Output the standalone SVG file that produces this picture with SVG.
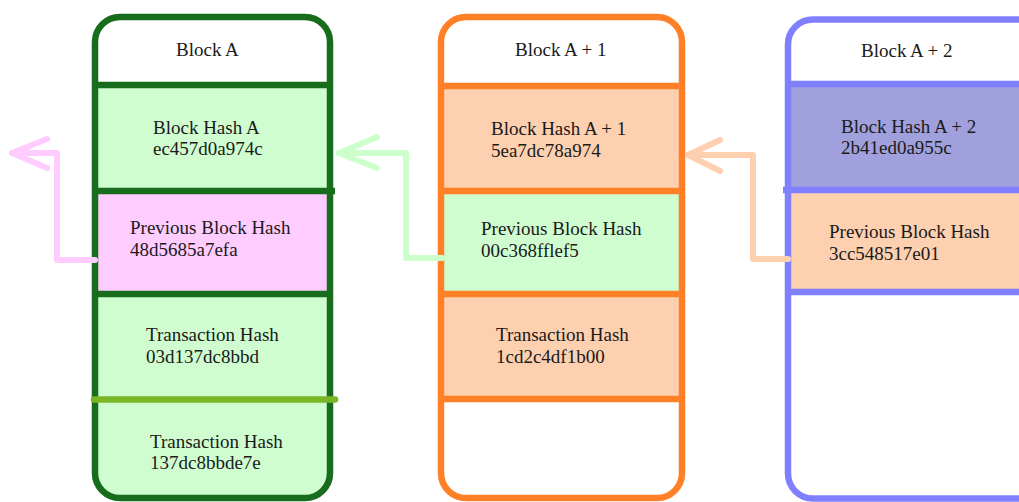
<svg xmlns="http://www.w3.org/2000/svg" width="1019" height="502" viewBox="0 0 1019 502">
  <style>
    text { font-family: "Liberation Serif", "Times New Roman", serif; font-size: 19px; fill: #1a1a1a; }
    .frame { fill: none; stroke-width: 6.5; }
    .div { stroke-width: 6.5; stroke-linecap: butt; }
    .link { fill: none; stroke-width: 6; stroke-linecap: round; stroke-linejoin: round; }
  </style>
  <defs>
    <clipPath id="clipA"><rect x="95" y="17" width="235" height="481" rx="25"/></clipPath>
    <clipPath id="clipB"><rect x="441" y="17" width="241" height="481" rx="25"/></clipPath>
    <clipPath id="clipC"><rect x="788" y="19.5" width="260" height="479" rx="25"/></clipPath>
  </defs>
  <rect width="1019" height="502" fill="#ffffff"/>

  <!-- Block A -->
  <g id="block-a">
    <g clip-path="url(#clipA)">
      <rect x="95" y="17" width="235" height="68" fill="#ffffff"/>
      <rect x="95" y="85" width="235" height="106" fill="#d0fdd0"/>
      <rect x="95" y="191" width="235" height="103" fill="#ffccff"/>
      <rect x="95" y="294" width="235" height="210" fill="#d0fdd0"/>
    </g>
    <line class="div" x1="95" y1="85" x2="330" y2="85" stroke="#186d1c"/>
    <line class="div" x1="95" y1="191" x2="335" y2="191" stroke="#186d1c"/>
    <line class="div" x1="95" y1="294" x2="330" y2="294" stroke="#186d1c"/>
    <rect class="frame" x="95" y="17" width="235" height="481" rx="25" stroke="#186d1c"/>
    <line x1="94" y1="399.5" x2="335" y2="399.5" stroke="#7ab526" stroke-width="6.5" stroke-linecap="round"/>
    <text x="176" y="56">Block A</text>
    <text x="153" y="134">Block Hash A</text>
    <text x="153" y="155">ec457d0a974c</text>
    <text x="130" y="234">Previous Block Hash</text>
    <text x="130" y="256">48d5685a7efa</text>
    <text x="146" y="341">Transaction Hash</text>
    <text x="146" y="363">03d137dc8bbd</text>
    <text x="150" y="448">Transaction Hash</text>
    <text x="150" y="469">137dc8bbde7e</text>
  </g>

  <!-- Block A + 1 -->
  <g id="block-a1">
    <g clip-path="url(#clipB)">
      <rect x="441" y="17" width="241" height="69" fill="#ffffff"/>
      <rect x="441" y="86" width="241" height="105" fill="#fdd0b0"/>
      <rect x="441" y="191" width="241" height="103" fill="#d0fdd0"/>
      <rect x="441" y="294" width="241" height="105" fill="#fdd0b0"/>
      <rect x="441" y="399" width="241" height="105" fill="#ffffff"/>
    </g>
    <line class="div" x1="441" y1="86" x2="682" y2="86" stroke="#ff8027"/>
    <line class="div" x1="441" y1="191" x2="682" y2="191" stroke="#ff8027"/>
    <line class="div" x1="441" y1="294" x2="682" y2="294" stroke="#ff8027"/>
    <line class="div" x1="441" y1="399" x2="682" y2="399" stroke="#ff8027"/>
    <rect class="frame" x="441" y="17" width="241" height="481" rx="25" stroke="#ff8027"/>
    <text x="515" y="56">Block A + 1</text>
    <text x="491" y="135">Block Hash A + 1</text>
    <text x="491" y="157">5ea7dc78a974</text>
    <text x="481" y="235">Previous Block Hash</text>
    <text x="481" y="257">00c368fflef5</text>
    <text x="496" y="341">Transaction Hash</text>
    <text x="496" y="363">1cd2c4df1b00</text>
  </g>

  <!-- Block A + 2 -->
  <g id="block-a2">
    <g clip-path="url(#clipC)">
      <rect x="788" y="19.5" width="260" height="64.5" fill="#ffffff"/>
      <rect x="788" y="84" width="260" height="106" fill="#a0a0dc"/>
      <rect x="788" y="190" width="260" height="102" fill="#fdd0b0"/>
      <rect x="788" y="292" width="260" height="212" fill="#ffffff"/>
    </g>
    <line class="div" x1="788" y1="84" x2="1048" y2="84" stroke="#8080ff"/>
    <line class="div" x1="783" y1="190" x2="1048" y2="190" stroke="#8080ff"/>
    <line class="div" x1="788" y1="292" x2="1048" y2="292" stroke="#8080ff"/>
    <rect class="frame" x="788" y="19.5" width="260" height="479" rx="25" stroke="#8080ff"/>
    <text x="861" y="57">Block A + 2</text>
    <text x="841" y="133">Block Hash A + 2</text>
    <text x="841" y="154">2b41ed0a955c</text>
    <text x="829" y="238">Previous Block Hash</text>
    <text x="829" y="260">3cc548517e01</text>
  </g>

  <!-- Links from each previous-hash row back to the preceding block -->
  <g id="connectors">
    <path class="link" stroke="#ffccff" d="M95,260 H57 V153 H12"/>
    <path class="link" stroke="#ffccff" d="M47,139 L12,153 L47,168"/>
    <path class="link" stroke="#ccffcc" d="M442,258 H406 V153 H339"/>
    <path class="link" stroke="#ccffcc" d="M377,137 L339,153 L377,168"/>
    <path class="link" stroke="#ffd0b0" d="M788,259 H753 V155 H688"/>
    <path class="link" stroke="#ffd0b0" d="M720,140 L688,155 L720,171"/>
  </g>
</svg>
